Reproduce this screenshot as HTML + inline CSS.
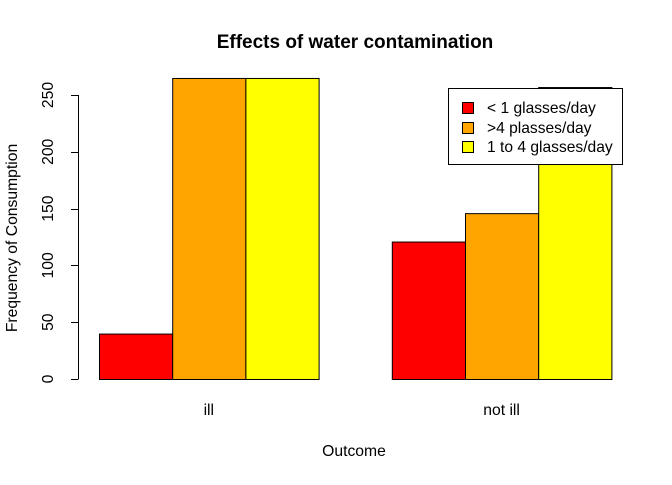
<!DOCTYPE html>
<html><head><meta charset="utf-8"><style>
body{margin:0;background:#fff}
svg text{font-family:"Liberation Sans",Arial,sans-serif;fill:#000}
</style></head><body>
<svg id="chart" width="672" height="480">
<text x="355" y="48" text-anchor="middle" font-size="19" font-weight="bold">Effects of water contamination</text>
<text x="354" y="456" text-anchor="middle" font-size="15.7">Outcome</text>
<text transform="translate(17,238) rotate(-90)" text-anchor="middle" font-size="15.7">Frequency of Consumption</text>
<g id="bars"></g>
<g id="yaxis"></g>
<g id="xlabels"></g>
<g>
<rect x="448.5" y="88.5" width="174" height="76" fill="#fff" stroke="#000"/>
<rect x="462.5" y="102.5" width="11" height="11" fill="#ff0000" stroke="#000"/>
<text x="487" y="113" font-size="15.6">&lt; 1 glasses/day</text>
<rect x="462.5" y="122.5" width="11" height="11" fill="#ffa500" stroke="#000"/>
<text x="487" y="133" font-size="15.6">&gt;4 plasses/day</text>
<rect x="462.5" y="141.5" width="11" height="11" fill="#ffff00" stroke="#000"/>
<text x="487" y="152" font-size="15.6">1 to 4 glasses/day</text>
</g>
</svg>
<script>
const categories = ["ill", "not ill"];
const seriesNames = ["lt1", "gt4", "1to4"];
const lt1 = [40, 121];
const gt4 = [265, 146];
const oneTo4 = [265, 257];
const yTicks = [0, 50, 100, 150, 200, 250];
const colors = ["#ff0000", "#ffa500", "#ffff00"];
const series = [lt1, gt4, oneTo4];
const NS = "http://www.w3.org/2000/svg";
const y0 = 379, pxPer = 284/250, bw = 73.2, x0 = 99;
const y = v => y0 - v*pxPer;
const xBar = (g, s) => x0 + g*4*bw + s*bw;
const bars = document.getElementById('bars');
categories.forEach((c, g) => {
  series.forEach((arr, s) => {
    const r = document.createElementNS(NS, 'rect');
    r.setAttribute('x', xBar(g, s) + 0.5);
    r.setAttribute('y', y(arr[g]) + 0.5);
    r.setAttribute('width', bw);
    r.setAttribute('height', y0 - y(arr[g]));
    r.setAttribute('fill', colors[s]);
    r.setAttribute('stroke', '#000');
    
    
    bars.appendChild(r);
  });
  const t = document.createElementNS(NS, 'text');
  t.setAttribute('x', xBar(g, 1) + bw/2);
  t.setAttribute('y', 415);
  t.setAttribute('text-anchor', 'middle');
  t.setAttribute('font-size', '15.7');
  t.textContent = c;
  
  
  document.getElementById('xlabels').appendChild(t);
});
const ya = document.getElementById('yaxis');
const ax = document.createElementNS(NS, 'line');
ax.setAttribute('x1', 78.5); ax.setAttribute('x2', 78.5);
ax.setAttribute('y1', y(yTicks[0])); ax.setAttribute('y2', y(yTicks[yTicks.length-1]));
ax.setAttribute('stroke', '#000');


ya.appendChild(ax);
yTicks.forEach(v => {
  const l = document.createElementNS(NS, 'line');
  l.setAttribute('x1', 71); l.setAttribute('x2', 78.5);
  l.setAttribute('y1', Math.round(y(v)) + 0.5); l.setAttribute('y2', Math.round(y(v)) + 0.5);
  l.setAttribute('stroke', '#000');
  
  
  ya.appendChild(l);
  const t = document.createElementNS(NS, 'text');
  t.setAttribute('transform', 'translate(53,' + y(v) + ') rotate(-90)');
  t.setAttribute('text-anchor', 'middle');
  t.setAttribute('font-size', '15.7');
  t.textContent = v;
  
  
  ya.appendChild(t);
});
</script>
</body></html>
